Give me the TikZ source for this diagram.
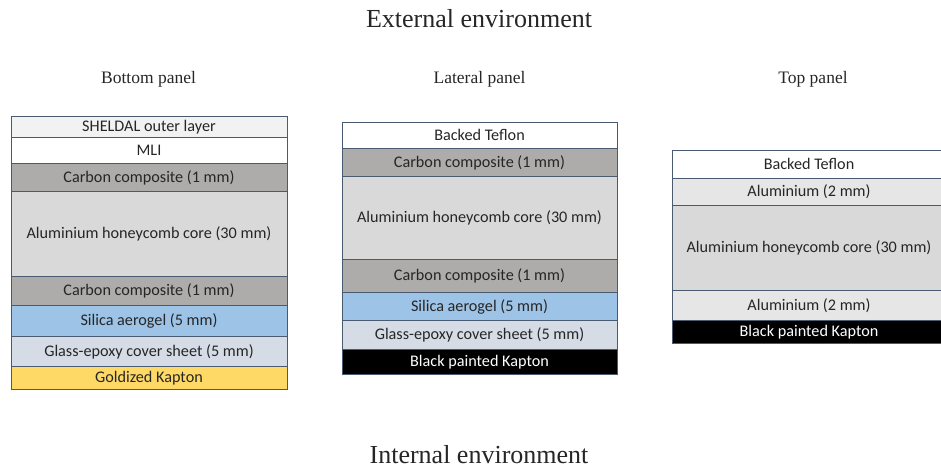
\documentclass[tikz,border=0pt]{standalone}
\usepackage{fontspec}
\setmainfont{Liberation Serif}
\newfontfamily\calib{Carlito}
\definecolor{edge}{HTML}{4A5A70}
\definecolor{sheldal}{HTML}{F2F2F2}
\definecolor{carbon}{HTML}{AEABAB}
\definecolor{honey}{HTML}{D9D9D9}
\definecolor{silica}{HTML}{9DC3E6}
\definecolor{glass}{HTML}{D6DCE5}
\definecolor{gold}{HTML}{FFD966}
\definecolor{alu}{HTML}{E7E6E6}
\definecolor{txt}{HTML}{262626}
\begin{document}
\begin{tikzpicture}[x=1pt,y=-1pt,
  layer/.style={draw=edge, line width=0.7pt, inner sep=0pt, outer sep=0pt,
    font=\calib\fontsize{16.2}{18}\selectfont, text=txt, text height=10.4pt, text depth=0pt},
  wb/.style={layer, minimum width=276pt},
  wl/.style={layer, minimum width=275pt},
  wt/.style={layer, minimum width=274pt},
  panel/.style={font=\fontsize{17.5}{20}\selectfont, text=black!85, anchor=base},
  env/.style={font=\fontsize{26}{30}\selectfont, text=black!85, anchor=base}]
\useasboundingbox (0,0) rectangle (941,468);
\node[env] (ext) at (479,28) {External environment};
\node[env] (int) at (479,463) {Internal environment};
\node[panel] (pb) at (148.5,84) {Bottom panel};
\node[panel] (pl) at (479.5,84) {Lateral panel};
\node[panel] (pt) at (813,84) {Top panel};
% bottom panel
\node[wb, fill=sheldal, minimum height=21pt] (b1) at (149,126.5) {SHELDAL outer layer};
\node[wb, fill=white, minimum height=26pt] (b2) at (149,150) {MLI};
\node[wb, fill=carbon, minimum height=28pt] (b3) at (149,177) {Carbon composite (1 mm)};
\node[wb, fill=honey, minimum height=85pt] (b4) at (149,233.5) {Aluminium honeycomb core (30 mm)};
\node[wb, fill=carbon, minimum height=29pt] (b5) at (149,290.5) {Carbon composite (1 mm)};
\node[wb, fill=silica, minimum height=31pt] (b6) at (149,320.5) {Silica aerogel (5 mm)};
\node[wb, fill=glass, minimum height=30pt] (b7) at (149,351) {Glass-epoxy cover sheet (5 mm)};
\node[wb, fill=gold, minimum height=23pt] (b8) at (149,377.5) {Goldized Kapton};
% lateral panel
\node[wl, fill=white, minimum height=26pt] (l1) at (479.5,135) {Backed Teflon};
\node[wl, fill=carbon, minimum height=28pt] (l2) at (479.5,162) {Carbon composite (1 mm)};
\node[wl, fill=honey, minimum height=83pt] (l3) at (479.5,217.5) {Aluminium honeycomb core (30 mm)};
\node[wl, fill=carbon, minimum height=33pt] (l4) at (479.5,275.5) {Carbon composite (1 mm)};
\node[wl, fill=silica, minimum height=28pt] (l5) at (479.5,306) {Silica aerogel (5 mm)};
\node[wl, fill=glass, minimum height=29pt] (l6) at (479.5,334.5) {Glass-epoxy cover sheet (5 mm)};
\node[wl, fill=black, text=white, minimum height=25pt] (l7) at (479.5,361.5) {Black painted Kapton};
% top panel
\node[wt, fill=white, minimum height=28pt] (t1) at (809,164) {Backed Teflon};
\node[wt, fill=alu, minimum height=27pt] (t2) at (809,191.5) {Aluminium (2 mm)};
\node[wt, fill=honey, minimum height=85pt] (t3) at (809,247.5) {Aluminium honeycomb core (30 mm)};
\node[wt, fill=alu, minimum height=30pt] (t4) at (809,305) {Aluminium (2 mm)};
\node[wt, fill=black, text=white, minimum height=23pt] (t5) at (809,331.5) {Black painted Kapton};
\end{tikzpicture}
\end{document}
